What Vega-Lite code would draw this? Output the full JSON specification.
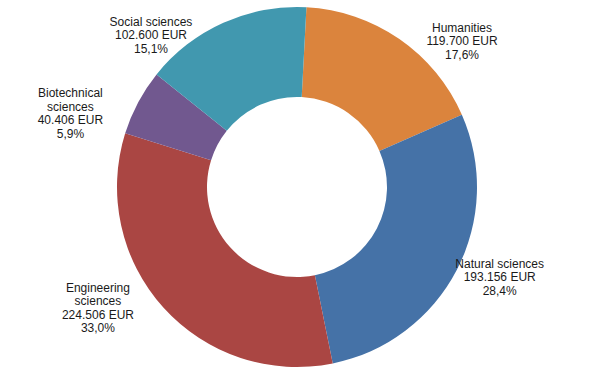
{
  "$schema": "https://vega.github.io/schema/vega-lite/v6.json",
  "width": 596,
  "height": 382,
  "autosize": {"type": "fit", "contains": "padding"},
  "padding": {"left": 0, "top": 0, "right": 2, "bottom": 8},
  "background": "white",
  "data": {
    "values": [
      {"rank": 1, "field": "Humanities", "amount": 119700, "label": "Humanities\n119.700 EUR\n17,6%"},
      {"rank": 2, "field": "Natural sciences", "amount": 193156, "label": "Natural sciences\n193.156 EUR\n28,4%"},
      {"rank": 3, "field": "Engineering sciences", "amount": 224506, "label": "Engineering\nsciences\n224.506 EUR\n33,0%"},
      {"rank": 4, "field": "Biotechnical sciences", "amount": 40406, "label": "Biotechnical\nsciences\n40.406 EUR\n5,9%"},
      {"rank": 5, "field": "Social sciences", "amount": 102600, "label": "Social sciences\n102.600 EUR\n15,1%"}
    ]
  },
  "encoding": {
    "theta": {"field": "amount", "type": "quantitative", "stack": true, "scale": {"range": [0.0524, 6.3356]}},
    "order": {"field": "rank", "type": "quantitative"}
  },
  "layer": [
    {
      "mark": {"type": "arc", "outerRadius": 180, "innerRadius": 90},
      "encoding": {
        "color": {
          "field": "field",
          "type": "nominal",
          "scale": {
            "domain": ["Humanities", "Natural sciences", "Engineering sciences", "Biotechnical sciences", "Social sciences"],
            "range": ["#DB843D", "#4572A7", "#AA4643", "#71588F", "#4198AF"]
          },
          "legend": null
        }
      }
    },
    {
      "mark": {
        "type": "text",
        "radius": 225,
        "font": "Liberation Sans",
        "fontSize": 12,
        "lineHeight": 13.5,
        "lineBreak": "\n",
        "fill": "#1a1a1a",
        "align": "center",
        "baseline": "middle",
        "dx": {"expr": "datum.field == 'Humanities' ? 37 : datum.field == 'Natural sciences' ? 3 : datum.field == 'Engineering sciences' ? -32 : datum.field == 'Biotechnical sciences' ? -28 : -54"},
        "dy": {"expr": "datum.field == 'Humanities' ? 26 : datum.field == 'Natural sciences' ? -27 : datum.field == 'Engineering sciences' ? -50 : datum.field == 'Biotechnical sciences' ? 12 : 40"}
      },
      "encoding": {"text": {"field": "label"}}
    }
  ],
  "config": {"view": {"stroke": null}}
}
